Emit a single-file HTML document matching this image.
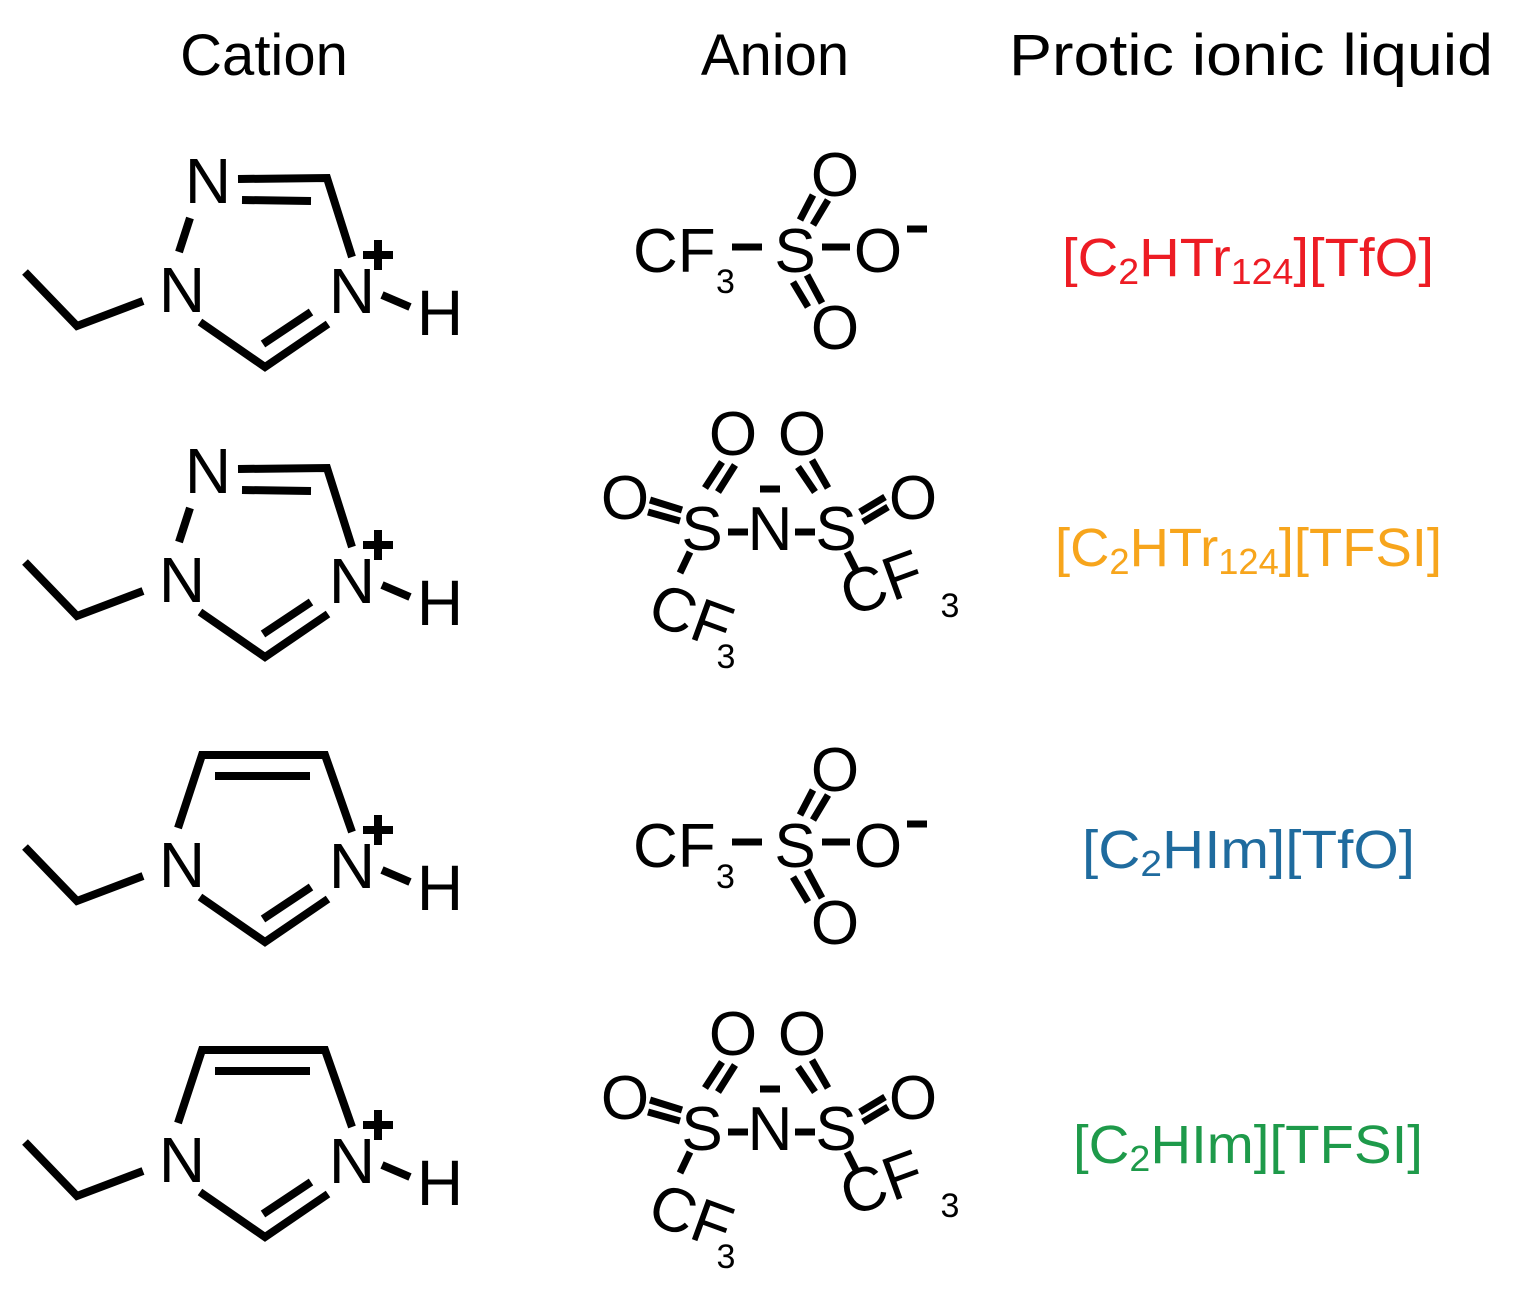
<!DOCTYPE html>
<html><head><meta charset="utf-8"><style>
html,body{margin:0;padding:0;background:#fff}
svg{display:block}
text{font-family:"Liberation Sans",sans-serif}
</style></head><body>
<svg width="1513" height="1297" viewBox="0 0 1513 1297" xmlns="http://www.w3.org/2000/svg">
<defs>
<g id="tri">
<g stroke="#000" stroke-width="8" fill="none" stroke-linecap="butt">
<polyline points="25,272 77,326 143,301"/>
<line x1="190" y1="218" x2="179" y2="252"/>
<polyline points="238,179 327,178 352,257"/>
<line x1="242" y1="200" x2="311" y2="201"/>
<polyline points="200,322 265,367 328,324"/>
<line x1="263" y1="344" x2="311" y2="312"/>
<line x1="382" y1="295" x2="410" y2="307"/>
<line x1="363" y1="255" x2="393" y2="255"/>
<line x1="378" y1="240" x2="378" y2="270"/>
</g>
<g font-size="64" fill="#000" text-anchor="middle">
<text x="182" y="312">N</text>
<text x="208" y="203">N</text>
<text x="352" y="313">N</text>
<text x="440" y="335">H</text>
</g>
</g>
<g id="imi">
<g stroke="#000" stroke-width="8" fill="none">
<polyline points="25,272 77,326 143,301"/>
<polyline points="178,253 202,180 325,180 352,257"/>
<line x1="215" y1="201" x2="310" y2="201"/>
<polyline points="200,322 265,367 328,324"/>
<line x1="263" y1="344" x2="311" y2="312"/>
<line x1="382" y1="295" x2="410" y2="307"/>
<line x1="363" y1="255" x2="393" y2="255"/>
<line x1="378" y1="240" x2="378" y2="270"/>
</g>
<g font-size="64" fill="#000" text-anchor="middle">
<text x="182" y="312">N</text>
<text x="352" y="313">N</text>
<text x="440" y="335">H</text>
</g>
</g>
<g id="tfo">
<g stroke="#000" stroke-width="7" fill="none">
<line x1="732" y1="247" x2="762" y2="247"/>
<line x1="822" y1="247" x2="850" y2="247"/>
<line x1="800" y1="220" x2="813" y2="195"/>
<line x1="813" y1="225" x2="828" y2="200"/>
<line x1="793" y1="282" x2="808" y2="307"/>
<line x1="807" y1="275" x2="822" y2="303"/>
<line x1="907" y1="229" x2="927" y2="229"/>
</g>
<g font-size="62" fill="#000">
<text x="633" y="272">CF</text>
<text x="716" y="293" font-size="34">3</text>
<text x="795" y="272" text-anchor="middle">S</text>
<text x="878" y="272" text-anchor="middle">O</text>
<text x="835" y="196" text-anchor="middle">O</text>
<text x="835" y="349" text-anchor="middle">O</text>
</g>
</g>
<g id="tfsi">
<g stroke="#000" stroke-width="7" fill="none">
<line x1="728" y1="532" x2="748" y2="532"/>
<line x1="795" y1="532" x2="815" y2="532"/>
<line x1="705" y1="488" x2="722" y2="462"/>
<line x1="718" y1="492" x2="735" y2="465"/>
<line x1="650" y1="500" x2="682" y2="510"/>
<line x1="648" y1="512" x2="680" y2="521"/>
<line x1="798" y1="467" x2="815" y2="492"/>
<line x1="812" y1="460" x2="828" y2="488"/>
<line x1="860" y1="512" x2="885" y2="497"/>
<line x1="863" y1="522" x2="888" y2="507"/>
<line x1="690" y1="552" x2="680" y2="573"/>
<line x1="847" y1="552" x2="857" y2="572"/>
<line x1="760" y1="489" x2="780" y2="489"/>
</g>
<g font-size="62" fill="#000" text-anchor="middle">
<text x="702" y="550">S</text>
<text x="770" y="550">N</text>
<text x="836" y="550">S</text>
<text x="733" y="455">O</text>
<text x="802" y="455">O</text>
<text x="625" y="519">O</text>
<text x="913" y="519">O</text>
<text x="0" y="0" text-anchor="start" transform="translate(645,622) rotate(20)">CF</text>
<text x="726" y="668" font-size="34">3</text>
<text x="0" y="0" text-anchor="start" transform="translate(850,617) rotate(-20)">CF</text>
<text x="950" y="617" font-size="34">3</text>
</g>
</g>
</defs>
<g font-size="58" fill="#000" text-anchor="middle">
<text x="264" y="75">Cation</text>
<text x="775" y="75">Anion</text>
<text x="1251" y="75" textLength="484" lengthAdjust="spacingAndGlyphs">Protic ionic liquid</text>
</g>
<use href="#tri"/>
<use href="#tri" transform="translate(0,290)"/>
<use href="#imi" transform="translate(0,575)"/>
<use href="#imi" transform="translate(0,870)"/>
<use href="#tfo"/>
<use href="#tfo" transform="translate(0,595)"/>
<use href="#tfsi"/>
<use href="#tfsi" transform="translate(0,600)"/>
<g font-size="54">
<text x="1062" y="276" fill="#ed1c24" textLength="372" lengthAdjust="spacingAndGlyphs">[C<tspan font-size="36" dy="8">2</tspan><tspan dy="-8">HTr</tspan><tspan font-size="36" dy="8">124</tspan><tspan dy="-8">][TfO]</tspan></text>
<text x="1055" y="566" fill="#f7a51c" textLength="387" lengthAdjust="spacingAndGlyphs">[C<tspan font-size="36" dy="8">2</tspan><tspan dy="-8">HTr</tspan><tspan font-size="36" dy="8">124</tspan><tspan dy="-8">][TFSI]</tspan></text>
<text x="1082" y="868" fill="#1f6b9e" textLength="333" lengthAdjust="spacingAndGlyphs">[C<tspan font-size="36" dy="8">2</tspan><tspan dy="-8">HIm][TfO]</tspan></text>
<text x="1073" y="1163" fill="#1e9a4a" textLength="350" lengthAdjust="spacingAndGlyphs">[C<tspan font-size="36" dy="8">2</tspan><tspan dy="-8">HIm][TFSI]</tspan></text>
</g>
</svg>
</body></html>
